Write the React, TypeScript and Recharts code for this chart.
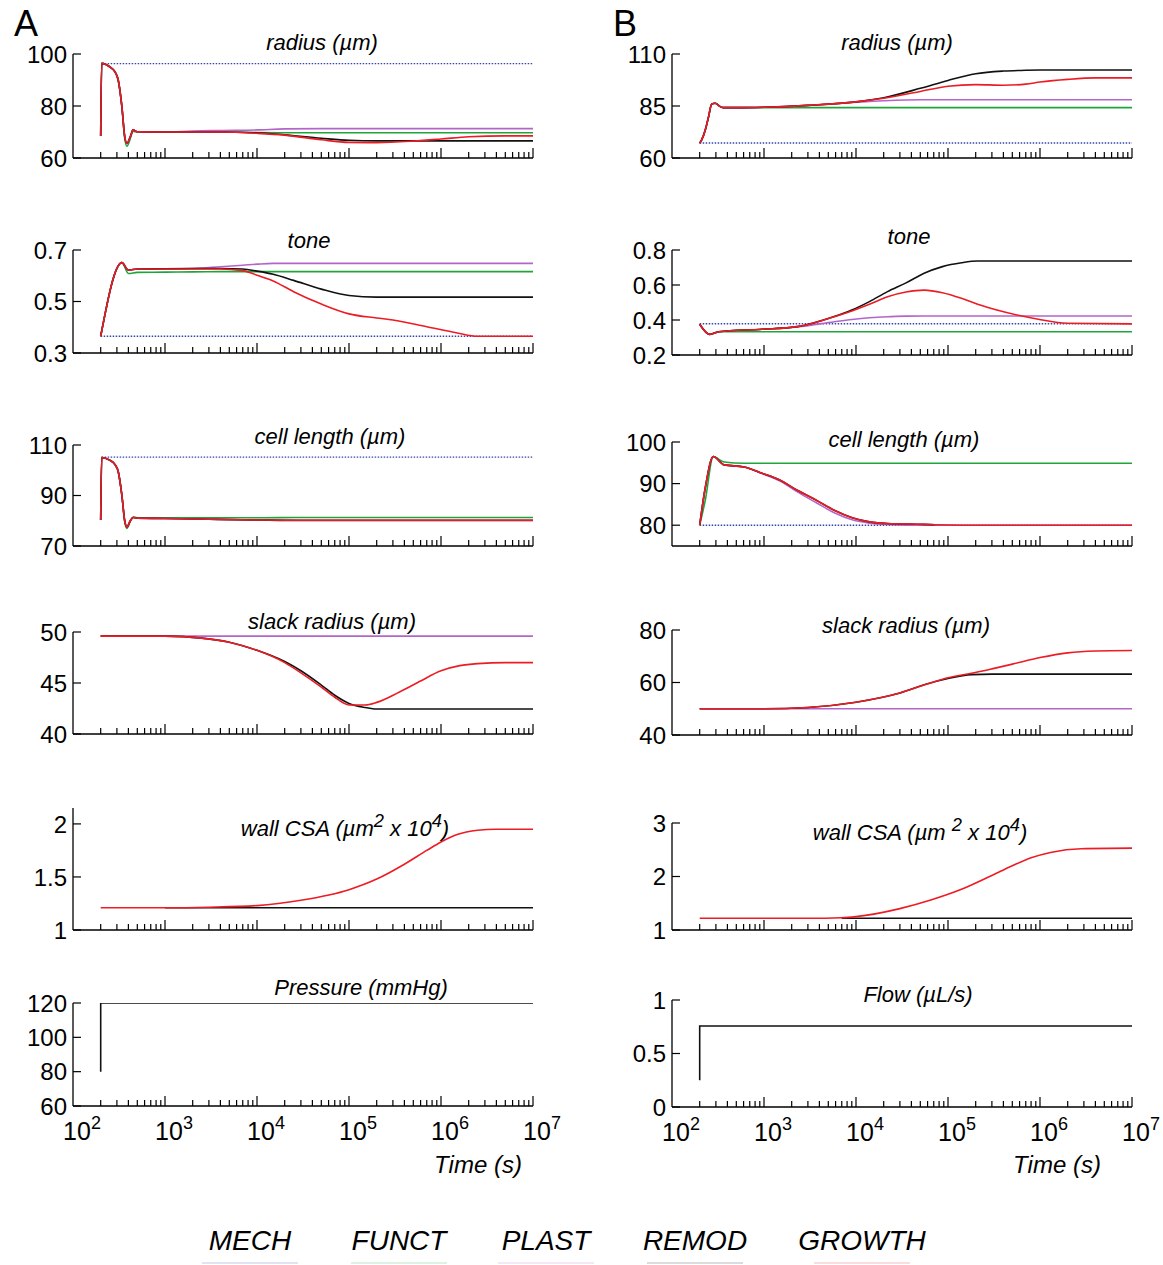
import React from "react";
import { LineChart, Line, XAxis, YAxis } from "recharts";

const FONT = "'Liberation Sans', Arial, Helvetica, sans-serif";

// log time axis, 10^2 .. 10^7 s
const DECADES = [2, 3, 4, 5, 6, 7];
const MINOR_STEPS = [2, 3, 4, 5, 6, 7, 8, 9];
const MAJOR_TICKS = DECADES.map((d) => 10 ** d);
const X_TICKS = [
  ...DECADES.slice(0, -1).flatMap((d) => [10 ** d, ...MINOR_STEPS.map((m) => m * 10 ** d)]),
  10 ** 7,
];

type Key = "mech" | "funct" | "plast" | "remod" | "growth";
type Vals = (number | null)[];

const LEGEND: { key: Key; label: string }[] = [
  { key: "mech", label: "MECH" },
  { key: "funct", label: "FUNCT" },
  { key: "plast", label: "PLAST" },
  { key: "remod", label: "REMOD" },
  { key: "growth", label: "GROWTH" },
];

const COLORS: Record<Key, string> = {
  mech: "#3346b0",
  funct: "#1ea53a",
  plast: "#b366c9",
  remod: "#111111",
  growth: "#ec1c24",
};

// ---------- column A ----------
const aRadTime = [200, 205, 250, 285, 310, 340, 365, 385, 420, 450, 500, 1e3, 2e3, 4e3, 1e4, 2e4, 5e4, 1e5, 2e5, 5e5, 1e6, 2e6, 5e6, 1e7];
const aRadMech = [null, 96.3, 96.3, 96.3, 96.3, 96.3, 96.3, 96.3, 96.3, 96.3, 96.3, 96.3, 96.3, 96.3, 96.3, 96.3, 96.3, 96.3, 96.3, 96.3, 96.3, 96.3, 96.3, 96.3];
const aRadFunct = [68.5, 96.4, 95.1, 93.2, 90, 79.7, 67.5, 64.5, 67.5, 70.3, 70, 70, 70, 70, 69.8, 69.7, 69.7, 69.7, 69.7, 69.7, 69.7, 69.7, 69.7, 69.7];
const aRadPlast = [68.5, 96.4, 95.1, 93.2, 90, 79.7, 68.2, 65.6, 68.2, 70.8, 70.1, 70, 70.4, 70.6, 70.8, 71.2, 71.3, 71.3, 71.3, 71.3, 71.3, 71.3, 71.3, 71.3];
const aRadRemod = [68.5, 96.4, 95.1, 93.2, 90, 79.7, 68.2, 65.6, 68.2, 70.8, 70.1, 70, 70, 70, 69.7, 68.9, 67.6, 66.8, 66.6, 66.6, 66.6, 66.6, 66.6, 66.6];
const aRadGrowth = [68.5, 96.4, 95.1, 93.2, 90, 79.7, 68.2, 65.6, 68.2, 70.8, 70.1, 70, 70, 70, 69.5, 68.8, 67, 66, 65.9, 66.5, 67.3, 68.2, 68.5, 68.5];

const aToneTime = [200, 340, 400, 500, 1e3, 2e3, 4e3, 7e3, 1e4, 1.5e4, 2.5e4, 5e4, 1e5, 2e5, 3e5, 7e5, 1.5e6, 2.5e6, 1e7];
const aToneMech = [0.365, 0.365, 0.365, 0.365, 0.365, 0.365, 0.365, 0.365, 0.365, 0.365, 0.365, 0.365, 0.365, 0.365, 0.365, 0.365, 0.365, 0.365, 0.365];
const aToneFunct = [0.365, 0.651, 0.609, 0.613, 0.614, 0.615, 0.616, 0.616, 0.616, 0.616, 0.616, 0.616, 0.616, 0.616, 0.616, 0.616, 0.616, 0.616, 0.616];
const aTonePlast = [0.365, 0.651, 0.622, 0.626, 0.626, 0.628, 0.635, 0.641, 0.645, 0.648, 0.648, 0.648, 0.648, 0.648, 0.648, 0.648, 0.648, 0.648, 0.648];
const aToneRemod = [0.365, 0.651, 0.622, 0.626, 0.627, 0.628, 0.628, 0.626, 0.618, 0.606, 0.582, 0.548, 0.523, 0.517, 0.517, 0.517, 0.517, 0.517, 0.517];
const aToneGrowth = [0.365, 0.651, 0.622, 0.626, 0.626, 0.626, 0.626, 0.62, 0.602, 0.58, 0.538, 0.49, 0.452, 0.436, 0.428, 0.402, 0.378, 0.365, 0.365];

const aCellTime = [200, 205, 250, 285, 310, 340, 365, 385, 420, 450, 500, 1e3, 3e3, 1e4, 3e4, 1e5, 1e6, 1e7];
const aCellMech = [null, 105.2, 105.2, 105.2, 105.2, 105.2, 105.2, 105.2, 105.2, 105.2, 105.2, 105.2, 105.2, 105.2, 105.2, 105.2, 105.2, 105.2];
const aCellFunct = [80.3, 105, 104, 102.3, 99.5, 90, 79.5, 77, 79.8, 81.5, 81.2, 81.2, 81.2, 81.2, 81.3, 81.3, 81.3, 81.3];
const aCellPlast = [80.3, 105, 104, 102.3, 99.5, 90, 80, 77.5, 80, 81.3, 81, 80.9, 80.6, 80.3, 80.2, 80.2, 80.2, 80.2];
const aCellRemod = [80.3, 105, 104, 102.3, 99.5, 90, 80, 77.5, 80, 81.3, 81, 80.9, 80.6, 80.3, 80.1, 80.1, 80.1, 80.1];
const aCellGrowth = [80.3, 105, 104, 102.3, 99.5, 90, 80, 77.5, 80, 81.3, 81, 80.9, 80.6, 80.3, 80.2, 80.2, 80.2, 80.2];

const aSlackTime = [200, 1e3, 2.5e3, 5e3, 1e4, 2e4, 3e4, 5e4, 7e4, 1e5, 1.5e5, 2e5, 3.5e5, 6e5, 1e6, 1.6e6, 2.5e6, 5e6, 1e7];
const aSlackPlast = [49.6, 49.6, 49.6, 49.6, 49.6, 49.6, 49.6, 49.6, 49.6, 49.6, 49.6, 49.6, 49.6, 49.6, 49.6, 49.6, 49.6, 49.6, 49.6];
const aSlackRemod = [49.6, 49.6, 49.4, 49.0, 48.2, 47.1, 46.2, 44.8, 43.8, 43.0, 42.6, 42.45, 42.45, 42.45, 42.45, 42.45, 42.45, 42.45, 42.45];
const aSlackGrowth = [49.6, 49.6, 49.4, 49.0, 48.2, 47.0, 46.0, 44.6, 43.6, 42.85, 42.85, 43.1, 44.1, 45.2, 46.2, 46.7, 46.9, 47.0, 47.0];

const aCsaTime = [200, 1e3, 3e3, 1e4, 3e4, 1e5, 2e5, 4e5, 7e5, 1e6, 1.5e6, 2.5e6, 4e6, 1e7];
const aCsaRemod = [null, 1.21, 1.21, 1.21, 1.21, 1.21, 1.21, 1.21, 1.21, 1.21, 1.21, 1.21, 1.21, 1.21];
const aCsaGrowth = [1.21, 1.21, 1.215, 1.23, 1.28, 1.38, 1.48, 1.62, 1.75, 1.83, 1.9, 1.94, 1.95, 1.95];

const aPresTime = [200, 200, 1e7];
const aPressure = [80, 120, 120];

// ---------- column B ----------
const bRadTime = [200, 210, 230, 250, 270, 295, 335, 365, 500, 1e3, 3e3, 1e4, 2e4, 5e4, 1e5, 2e5, 4e5, 7e5, 1e6, 2e6, 4e6, 1e7];
const bRadMech = [67.2, 67.2, 67.2, 67.2, 67.2, 67.2, 67.2, 67.2, 67.2, 67.2, 67.2, 67.2, 67.2, 67.2, 67.2, 67.2, 67.2, 67.2, 67.2, 67.2, 67.2, 67.2];
const bRadFunct = [67.1, 68.7, 73.5, 79.9, 86, 86.3, 84.7, 84.2, 84.2, 84.2, 84.2, 84.2, 84.2, 84.2, 84.2, 84.2, 84.2, 84.2, 84.2, 84.2, 84.2, 84.2];
const bRadPlast = [67.1, 68.7, 73.5, 79.9, 86, 86.3, 84.7, 84.2, 84.2, 84.4, 85.3, 86.8, 87.5, 88, 88, 88, 88, 88, 88, 88, 88, 88];
const bRadRemod = [67.1, 68.7, 73.5, 79.9, 86, 86.3, 84.7, 84.2, 84.2, 84.4, 85.3, 87, 89, 93.5, 97.3, 100.5, 101.8, 102.2, 102.3, 102.3, 102.3, 102.3];
const bRadGrowth = [67.1, 68.7, 73.5, 79.9, 86, 86.3, 84.7, 84.2, 84.2, 84.4, 85.3, 87, 88.7, 92, 94.5, 95.3, 95, 95.5, 96.5, 97.8, 98.5, 98.5];

const bToneTime = [200, 257, 322, 950, 2.3e3, 5.8e3, 9e3, 1.4e4, 2.2e4, 3.5e4, 5.5e4, 8.7e4, 1.4e5, 2.1e5, 3.4e5, 8.4e5, 2e6, 1e7];
const bToneMech = [0.379, 0.379, 0.379, 0.379, 0.379, 0.379, 0.379, 0.379, 0.379, 0.379, 0.379, 0.379, 0.379, 0.379, 0.379, 0.379, 0.379, 0.379];
const bToneFunct = [0.376, 0.318, 0.333, 0.333, 0.333, 0.333, 0.333, 0.333, 0.333, 0.333, 0.333, 0.333, 0.333, 0.333, 0.333, 0.333, 0.333, 0.333];
const bTonePlast = [0.376, 0.318, 0.333, 0.347, 0.36, 0.39, 0.403, 0.413, 0.419, 0.422, 0.423, 0.423, 0.423, 0.423, 0.423, 0.423, 0.423, 0.423];
const bToneRemod = [0.376, 0.318, 0.333, 0.347, 0.362, 0.42, 0.457, 0.505, 0.562, 0.612, 0.667, 0.705, 0.727, 0.737, 0.737, 0.737, 0.737, 0.737];
const bToneGrowth = [0.376, 0.318, 0.333, 0.347, 0.362, 0.419, 0.452, 0.49, 0.533, 0.56, 0.571, 0.556, 0.524, 0.49, 0.457, 0.41, 0.381, 0.378];

const bCellTime = [200, 230, 281, 368, 606, 950, 1.5e3, 2.3e3, 3.7e3, 5.8e3, 9.1e3, 1.4e4, 2.2e4, 5.5e4, 7.2e4, 1.4e5, 1e7];
const bCellMech = [80, 80, 80, 80, 80, 80, 80, 80, 80, 80, 80, 80, 80, 80, 80, 80, 80];
const bCellFunct = [80, 86, 96.5, 95.2, 94.9, 94.9, 94.9, 94.9, 94.9, 94.9, 94.9, 94.9, 94.9, 94.9, 94.9, 94.9, 94.9];
const bCellPlast = [80, 89, 96.5, 94.5, 94, 92.4, 90.6, 88, 85.4, 83, 81.3, 80.5, 80.2, 80, 80, 80, 80];
const bCellRemod = [80, 89, 96.5, 94.5, 94, 92.5, 90.8, 88.4, 86, 83.6, 81.8, 80.8, 80.4, 80.2, 80.1, null, null];
const bCellGrowth = [80, 89, 96.5, 94.5, 94, 92.5, 90.8, 88.4, 86, 83.6, 81.8, 80.8, 80.4, 80.2, 80.1, 80, 80];

const bSlackTime = [200, 1e3, 3e3, 1e4, 3e4, 6e4, 1e5, 1.8e5, 3e5, 5e5, 1e6, 2e6, 4e6, 1e7];
const bSlackPlast = [50, 50, 50, 50, 50, 50, 50, 50, 50, 50, 50, 50, 50, 50];
const bSlackRemod = [50, 50, 50.5, 52.5, 56, 59.5, 61.5, 63, 63.2, 63.2, 63.2, 63.2, 63.2, 63.2];
const bSlackGrowth = [50, 50, 50.5, 52.5, 56, 59.5, 61.8, 63.5, 65.2, 67, 69.5, 71.3, 72, 72.2];

const bCsaTime = [200, 3e3, 7e3, 1e4, 3e4, 6.5e4, 1.4e5, 3e5, 5e5, 8e5, 1.3e6, 2.8e6, 1e7];
const bCsaRemod = [null, null, 1.22, 1.22, 1.22, 1.22, 1.22, 1.22, 1.22, 1.22, 1.22, 1.22, 1.22];
const bCsaGrowth = [1.22, 1.22, 1.23, 1.25, 1.4, 1.56, 1.76, 2.02, 2.2, 2.35, 2.45, 2.52, 2.53];

const bFlowTime = [200, 200, 1e7];
const bFlow = [0.25, 0.757, 0.757];

type Panel = {
  title: React.ReactNode;
  titleX: number;
  titleY: number;
  x0: number;
  x1: number;
  y0: number;
  y1: number;
  domain: [number, number];
  yTicks: number[];
  time: number[];
  series: Partial<Record<Key, Vals>>;
  step?: boolean;
  xLabels?: boolean;
};

const AX = { x0: 73, x1: 533 };
const BX = { x0: 672, x1: 1132 };

const um = "\u00b5m";

const PANELS: Panel[] = [
  { ...AX, title: `radius (${um})`, titleX: 322, titleY: 43, y0: 54, y1: 158, domain: [60, 100], yTicks: [60, 80, 100], time: aRadTime,
    series: { mech: aRadMech, funct: aRadFunct, plast: aRadPlast, remod: aRadRemod, growth: aRadGrowth } },
  { ...AX, title: "tone", titleX: 309, titleY: 241, y0: 250, y1: 353, domain: [0.3, 0.7], yTicks: [0.3, 0.5, 0.7], time: aToneTime,
    series: { mech: aToneMech, funct: aToneFunct, plast: aTonePlast, remod: aToneRemod, growth: aToneGrowth } },
  { ...AX, title: `cell length (${um})`, titleX: 330, titleY: 437, y0: 445, y1: 546, domain: [70, 110], yTicks: [70, 90, 110], time: aCellTime,
    series: { mech: aCellMech, funct: aCellFunct, plast: aCellPlast, remod: aCellRemod, growth: aCellGrowth } },
  { ...AX, title: `slack radius (${um})`, titleX: 332, titleY: 622, y0: 632, y1: 734, domain: [40, 50], yTicks: [40, 45, 50], time: aSlackTime,
    series: { plast: aSlackPlast, remod: aSlackRemod, growth: aSlackGrowth } },
  { ...AX, title: <>wall CSA ({um}<sup>2</sup> x 10<sup>4</sup>)</>, titleX: 345, titleY: 826, y0: 808, y1: 930, domain: [1, 2.15], yTicks: [1, 1.5, 2], time: aCsaTime,
    series: { remod: aCsaRemod, growth: aCsaGrowth } },
  { ...AX, title: "Pressure (mmHg)", titleX: 361, titleY: 988, y0: 1003, y1: 1106, domain: [60, 120], yTicks: [60, 80, 100, 120], time: aPresTime,
    series: { remod: aPressure }, step: true, xLabels: true },

  { ...BX, title: `radius (${um})`, titleX: 897, titleY: 43, y0: 54, y1: 158, domain: [60, 110], yTicks: [60, 85, 110], time: bRadTime,
    series: { mech: bRadMech, funct: bRadFunct, plast: bRadPlast, remod: bRadRemod, growth: bRadGrowth } },
  { ...BX, title: "tone", titleX: 909, titleY: 237, y0: 250, y1: 355, domain: [0.2, 0.8], yTicks: [0.2, 0.4, 0.6, 0.8], time: bToneTime,
    series: { mech: bToneMech, funct: bToneFunct, plast: bTonePlast, remod: bToneRemod, growth: bToneGrowth } },
  { ...BX, title: `cell length (${um})`, titleX: 904, titleY: 440, y0: 442, y1: 546, domain: [75, 100], yTicks: [80, 90, 100], time: bCellTime,
    series: { mech: bCellMech, funct: bCellFunct, plast: bCellPlast, remod: bCellRemod, growth: bCellGrowth } },
  { ...BX, title: `slack radius (${um})`, titleX: 906, titleY: 626, y0: 630, y1: 735, domain: [40, 80], yTicks: [40, 60, 80], time: bSlackTime,
    series: { plast: bSlackPlast, remod: bSlackRemod, growth: bSlackGrowth } },
  { ...BX, title: <>wall CSA ({um} <sup>2</sup> x 10<sup>4</sup>)</>, titleX: 920, titleY: 830, y0: 823, y1: 930, domain: [1, 3], yTicks: [1, 2, 3], time: bCsaTime,
    series: { remod: bCsaRemod, growth: bCsaGrowth } },
  { ...BX, title: `Flow (\u00b5L/s)`, titleX: 918, titleY: 995, y0: 1000, y1: 1107, domain: [0, 1], yTicks: [0, 0.5, 1], time: bFlowTime,
    series: { remod: bFlow }, step: true, xLabels: true },
];

function XTick({ x, y, payload, labels }: any) {
  const v = payload.value;
  const idx = MAJOR_TICKS.indexOf(v);
  const major = idx >= 0;
  return (
    <g>
      {v > 100 && (
        <line x1={x} x2={x} y1={y} y2={y - (major ? 10 : 6)} stroke="#000" strokeWidth={1.2} />
      )}
      {labels && major && (
        <text x={x + 9} y={y + 34} textAnchor="middle" fontSize={25} fontFamily={FONT} fill="#000">
          10
          <tspan dy={-11} fontSize={18}>
            {DECADES[idx]}
          </tspan>
        </text>
      )}
    </g>
  );
}

function YTick({ x, y, payload }: any) {
  return (
    <g>
      <line x1={x} x2={x + 8} y1={y} y2={y} stroke="#000" strokeWidth={1.2} />
      <text x={x - 6} y={y} dy="0.36em" textAnchor="end" fontSize={24} fontFamily={FONT} fill="#000">
        {payload.value}
      </text>
    </g>
  );
}

function PanelChart({ p }: { p: Panel }) {
  const padL = 75;
  const padT = 16;
  const padR = 40;
  const axisH = p.xLabels ? 60 : 22;
  const width = p.x1 - p.x0 + padL + padR;
  const height = p.y1 - p.y0 + padT + axisH;
  return (
    <>
      <div style={{ position: "absolute", left: p.x0 - padL, top: p.y0 - padT }}>
        <LineChart width={width} height={height} margin={{ top: padT, right: padR, left: 0, bottom: 0 }}>
          <XAxis
            type="number"
            dataKey="t"
            scale="log"
            domain={[100, 1e7]}
            allowDataOverflow
            ticks={X_TICKS}
            interval={0}
            tick={(props: any) => <XTick {...props} labels={p.xLabels} />}
            tickSize={0}
            tickMargin={0}
            tickLine={false}
            axisLine={{ stroke: "#000", strokeWidth: 1.3 }}
            height={axisH}
          />
          <YAxis
            type="number"
            domain={p.domain}
            allowDataOverflow
            ticks={p.yTicks}
            interval={0}
            tick={(props: any) => <YTick {...props} />}
            tickSize={0}
            tickMargin={0}
            tickLine={false}
            axisLine={{ stroke: "#000", strokeWidth: 1.3 }}
            width={padL}
          />
          {LEGEND.map(({ key }) => {
            const vals = p.series[key];
            if (!vals) return null;
            const data = p.time
              .map((t, i) => ({ t, v: vals[i] }))
              .filter((d) => d.v !== null && d.v !== undefined);
            return (
              <Line
                key={key}
                data={data}
                dataKey="v"
                type={p.step ? "linear" : "monotoneX"}
                stroke={COLORS[key]}
                strokeWidth={key === "mech" ? 1.4 : 1.6}
                strokeDasharray={key === "mech" ? "1.5 1.5" : undefined}
                dot={false}
                activeDot={false}
                isAnimationActive={false}
              />
            );
          })}
        </LineChart>
      </div>
      <div
        style={{
          position: "absolute",
          left: p.titleX,
          top: p.titleY,
          transform: "translate(-50%, -50%)",
          fontFamily: FONT,
          fontStyle: "italic",
          fontSize: 22,
          whiteSpace: "nowrap",
          lineHeight: 1,
        }}
      >
        {p.title}
      </div>
    </>
  );
}

const textAbs: React.CSSProperties = {
  position: "absolute",
  fontFamily: FONT,
  whiteSpace: "nowrap",
  lineHeight: 1,
  transform: "translate(-50%, -50%)",
};

const LEGEND_X = [250, 399, 546, 695, 862];

export default function App() {
  return (
    <div style={{ position: "absolute", left: 0, top: 0, width: 1163, height: 1265, background: "#fff", overflow: "hidden" }}>
      <div style={{ ...textAbs, left: 26, top: 24, fontSize: 36 }}>A</div>
      <div style={{ ...textAbs, left: 625, top: 24, fontSize: 36 }}>B</div>
      {PANELS.map((p, i) => (
        <PanelChart key={i} p={p} />
      ))}
      <div style={{ ...textAbs, left: 478, top: 1165, fontSize: 24, fontStyle: "italic" }}>Time (s)</div>
      <div style={{ ...textAbs, left: 1057, top: 1165, fontSize: 24, fontStyle: "italic" }}>Time (s)</div>
      {LEGEND.map((l, i) => (
        <React.Fragment key={l.key}>
          <div style={{ ...textAbs, left: LEGEND_X[i], top: 1241, fontSize: 28, fontStyle: "italic" }}>{l.label}</div>
          <div
            style={{
              position: "absolute",
              left: LEGEND_X[i] - 48,
              top: 1262,
              width: 96,
              height: 2,
              background: COLORS[l.key],
              opacity: 0.15,
            }}
          />
        </React.Fragment>
      ))}
    </div>
  );
}
